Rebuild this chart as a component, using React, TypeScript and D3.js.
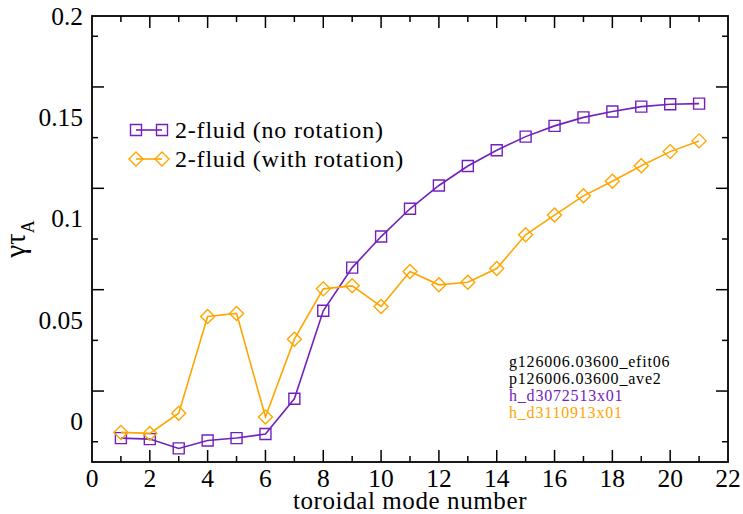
import React, { useEffect, useRef } from "react"
import * as d3 from "d3"

// toroidal mode numbers
const modes = [1, 2, 3, 4, 5, 6, 7, 8, 9, 10, 11, 12, 13, 14, 15, 16, 17, 18, 19, 20, 21]
// growth rate, 2-fluid without rotation
const noRotation = [
  -0.0082, -0.0087, -0.0133, -0.0094, -0.0082, -0.0062, 0.0112, 0.0546, 0.0759, 0.0912, 0.1049,
  0.1164, 0.126, 0.1338, 0.1405, 0.1458, 0.150, 0.1529, 0.1553, 0.1565, 0.1568,
]
// growth rate, 2-fluid with rotation
const withRotation = [
  -0.0054, -0.0059, 0.0041, 0.0518, 0.0533, 0.0022, 0.0406, 0.0654, 0.0669, 0.0567, 0.074,
  0.0674, 0.0687, 0.0754, 0.0921, 0.1018, 0.1113, 0.1185, 0.1261, 0.1331, 0.1384,
]
const seriesNames = ["2-fluid (no rotation)", "2-fluid (with rotation)"]
const notes = ["g126006.03600_efit06", "p126006.03600_ave2", "h_d3072513x01", "h_d3110913x01"]
const xTicks = [0, 2, 4, 6, 8, 10, 12, 14, 16, 18, 20, 22]
const yTicks = [0, 0.05, 0.1, 0.15, 0.2]
const yTickLabels = ["0", "0.05", "0.1", "0.15", "0.2"]

const PURPLE = "#7221bc"
const ORANGE = "#ffa500"

export default function App() {
  const ref = useRef<SVGSVGElement>(null)

  useEffect(() => {
    const svg = d3.select(ref.current)
    svg.selectAll("*").remove()
    const left = 92, right = 728, top = 16, bottom = 462

    const x = d3.scaleLinear().domain([0, 22]).range([left, right])
    const y = d3.scaleLinear().domain([-0.02, 0.2]).range([bottom, top])

    // frame
    svg.append("rect")
      .attr("x", left).attr("y", top)
      .attr("width", right - left).attr("height", bottom - top)
      .attr("fill", "none").attr("stroke", "black").attr("stroke-width", 1.8)

    // ticks, all pointing inward
    const tickG = svg.append("g").attr("stroke", "black").attr("stroke-width", 1.5)
    d3.range(1, 22).forEach(v => {
      const len = v % 2 === 0 ? 12 : 6
      tickG.append("line").attr("x1", x(v)).attr("x2", x(v)).attr("y1", bottom).attr("y2", bottom - len)
      tickG.append("line").attr("x1", x(v)).attr("x2", x(v)).attr("y1", top).attr("y2", top + len)
    })
    d3.range(-0.01, 0.2, 0.025).forEach((v, i) => {
      const len = i % 2 === 1 ? 12 : 6
      tickG.append("line").attr("x1", left).attr("x2", left + len).attr("y1", y(v)).attr("y2", y(v))
      tickG.append("line").attr("x1", right).attr("x2", right - len).attr("y1", y(v)).attr("y2", y(v))
    })

    svg.selectAll(".xlab").data(xTicks).enter().append("text")
      .attr("x", d => x(d)).attr("y", bottom + 25)
      .attr("text-anchor", "middle")
      .attr("font-size", 25.5)
      .text(d => d)

    svg.selectAll(".ylab").data(yTicks).enter().append("text")
      .attr("x", left - 9).attr("y", d => y(d) + 8.5)
      .attr("text-anchor", "end")
      .attr("font-size", 25.5)
      .text((d, i) => yTickLabels[i])

    svg.append("text")
      .attr("x", (left + right) / 2).attr("y", 509)
      .attr("text-anchor", "middle")
      .attr("font-size", 25)
      .attr("letter-spacing", 0.6)
      .text("toroidal mode number")

    const yl = svg.append("text")
      .attr("transform", `translate(25,${(top + bottom) / 2}) rotate(-90)`)
      .attr("text-anchor", "middle")
      .attr("font-size", 29)
    yl.append("tspan").text("γτ")
    yl.append("tspan").attr("font-size", 18).attr("dy", 9).text("A")

    const line = d3.line<number>().x((d, i) => x(modes[i])).y(d => y(d))

    const drawSeries = (vals: number[], color: string, shape: string) => {
      svg.append("path").datum(vals)
        .attr("d", line)
        .attr("fill", "none").attr("stroke", color).attr("stroke-width", 1.6)
      svg.selectAll("." + shape).data(vals).enter().append("path")
        .attr("class", shape)
        .attr("transform", (d, i) => `translate(${x(modes[i])},${y(d)})`)
        .attr("d", shape === "sq" ? "M-5.5,-5.5H5.5V5.5H-5.5Z" : "M0,-7L7,0L0,7L-7,0Z")
        .attr("fill", "none").attr("stroke", color).attr("stroke-width", 1.4)
    }
    drawSeries(noRotation, PURPLE, "sq")
    drawSeries(withRotation, ORANGE, "dm")

    // legend
    const legend = [
      { name: seriesNames[0], color: PURPLE, d: "M-5.5,-5.5H5.5V5.5H-5.5Z", y: 130 },
      { name: seriesNames[1], color: ORANGE, d: "M0,-7L7,0L0,7L-7,0Z", y: 159 },
    ]
    legend.forEach(l => {
      svg.append("line").attr("x1", 136).attr("x2", 162).attr("y1", l.y).attr("y2", l.y)
        .attr("stroke", l.color).attr("stroke-width", 1.6)
      ;[136, 162].forEach(px => {
        svg.append("path").attr("transform", `translate(${px},${l.y})`).attr("d", l.d)
          .attr("fill", "none").attr("stroke", l.color).attr("stroke-width", 1.4)
      })
      svg.append("text").attr("x", 175).attr("y", l.y + 8)
        .attr("font-size", 24)
        .attr("letter-spacing", 0.8)
        .text(l.name)
    })

    const noteColors = ["black", "black", PURPLE, ORANGE]
    notes.forEach((t, i) => {
      svg.append("text").attr("x", 509).attr("y", 367 + i * 17)
        .attr("font-size", 16)
        .attr("letter-spacing", 0.8)
        .attr("fill", noteColors[i])
        .text(t)
    })
  }, [])

  return (
    <svg ref={ref} width={743} height={514}
      style={{ position: "absolute", left: 0, top: 0, background: "white", fontFamily: "Liberation Serif" }} />
  )
}
